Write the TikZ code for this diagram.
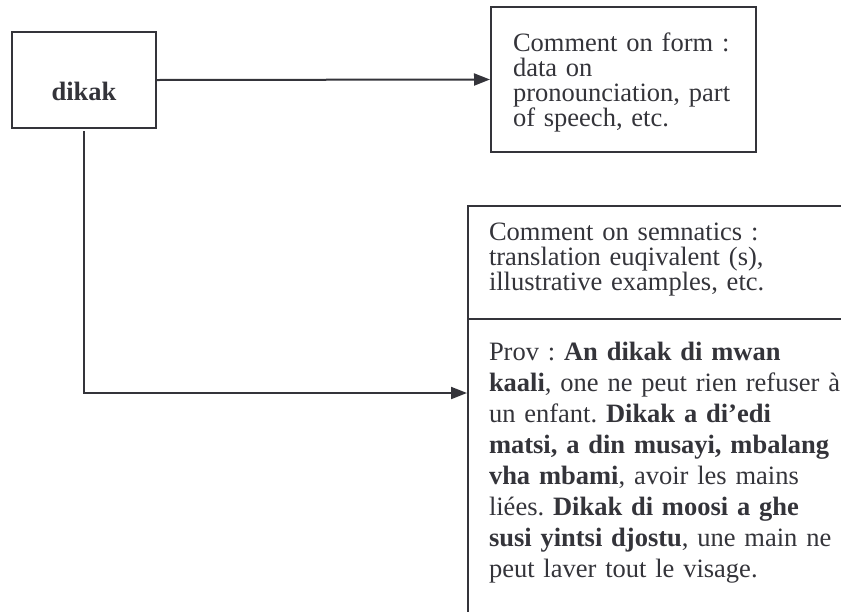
\documentclass[tikz,border=0pt]{standalone}
\usepackage{fontspec}
\setmainfont{Liberation Serif}
\usetikzlibrary{arrows.meta}
\definecolor{ink}{RGB}{52,52,58}
\begin{document}
\frenchspacing
\begin{tikzpicture}[x=1pt,y=-1pt,
  line width=2pt, draw=ink, text=ink,
  frame/.style={draw=ink, line width=2pt, rectangle, inner sep=0pt},
  para/.style={anchor=base west, inner sep=0pt, align=left,
    font=\fontsize{26.5}{25}\selectfont},
  link/.style={draw=ink, line width=2pt, -{Triangle[length=16pt,width=12pt]}}]
  \useasboundingbox (0,0) rectangle (841,611);
  \clip (0,0) rectangle (841,611);

  % headword box
  \node[frame, minimum width=144pt, minimum height=96pt] (head) at (84,80) {};
  \node[anchor=base, inner sep=0pt, font=\fontsize{26.5}{25}\selectfont\bfseries] (headtext) at (84,100) {dikak};

  % comment on form
  \node[frame, minimum width=265pt, minimum height=145pt] (form) at (623.5,79.5) {};
  \node[para, text width=240pt] (formtext) at (512,51)
    {Comment on form :\\ data on\\ pronounciation, part\\ of speech, etc.};

  % comment on semantics (runs past the right and bottom edges)
  \node[frame, minimum width=420pt, minimum height=450pt, anchor=north west] (sem) at (467,205) {};
  \coordinate (divl) at (467,319);
  \draw[ink, line width=2pt] (divl) -- (sem.east |- divl);
  \node[para, text width=400pt] (semtext) at (488,240)
    {Comment on semnatics :\\ translation euqivalent (s),\\ illustrative examples, etc.};
  \node[para, text width=400pt, font=\fontsize{26.5}{31}\selectfont] (prov) at (488,360)
    {Prov : \textbf{An dikak di mwan}\\
     \textbf{kaali}, one ne peut rien refuser à\\
     un enfant. \textbf{Dikak a di’edi}\\
     \textbf{matsi, a din musayi, mbalang}\\
     \textbf{vha mbami}, avoir les mains\\
     liées. \textbf{Dikak di moosi a ghe}\\
     \textbf{susi yintsi djostu}, une main ne\\
     peut laver tout le visage.};

  % connectors
  \coordinate (provrow) at (467,393);
  \draw[link] (head.east) -- (form.west);
  \draw[link] ([yshift=-2pt]head.south) |- (provrow);
\end{tikzpicture}
\end{document}
